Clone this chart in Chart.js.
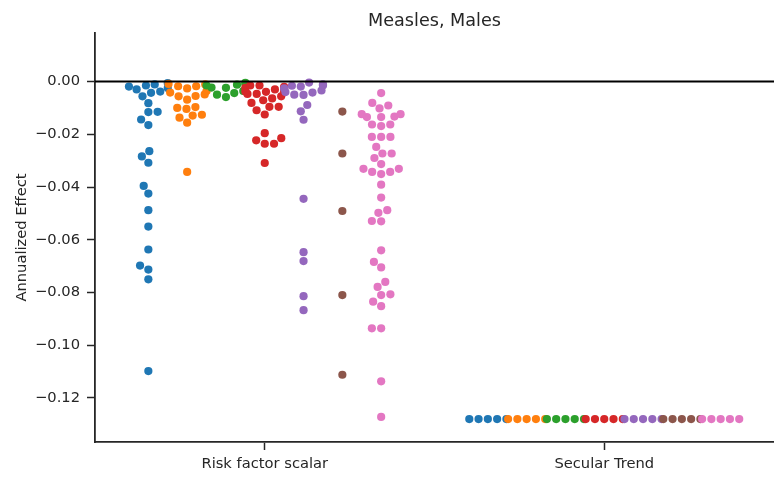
<!DOCTYPE html>
<html>
<head>
<meta charset="utf-8">
<script src="https://cdn.jsdelivr.net/npm/chart.js@4.4.0/dist/chart.umd.min.js"></script>
<style>
html,body{margin:0;padding:0;background:#ffffff;}
#wrap{width:774px;height:479px;}
</style>
</head>
<body>
<div id="wrap"><canvas id="c"></canvas></div>
<script>
// ---------------- data ----------------
const chartTitle = 'Measles, Males';
const yAxisLabel = 'Annualized Effect';
const categories = ['Risk factor scalar', 'Secular Trend'];
const yTicks = [0, -0.02, -0.04, -0.06, -0.08, -0.10, -0.12];

// "Risk factor scalar" values per hue group
const riskBlue = [-0.0006, -0.0011, -0.0015, -0.0019, -0.0025, -0.0030, -0.0038, -0.0043, -0.0056,
  -0.0082, -0.0115, -0.0116, -0.0144, -0.0165, -0.0264, -0.0284, -0.0308, -0.0396, -0.0425,
  -0.0488, -0.0550, -0.0637, -0.0698, -0.0713, -0.0750, -0.1098];
const riskOrange = [-0.0009, -0.0011, -0.0018, -0.0018, -0.0026, -0.0036, -0.0042, -0.0049, -0.0055,
  -0.0056, -0.0069, -0.0097, -0.0100, -0.0104, -0.0126, -0.0129, -0.0137, -0.0156, -0.0343];
const riskGreen = [-0.0005, -0.0009, -0.0012, -0.0015, -0.0023, -0.0024, -0.0036, -0.0044, -0.0050, -0.0059];
const riskRed = [-0.0015, -0.0015, -0.0020, -0.0024, -0.0026, -0.0030, -0.0038, -0.0039, -0.0039,
  -0.0047, -0.0047, -0.0056, -0.0064, -0.0071, -0.0081, -0.0096, -0.0096, -0.0109, -0.0125,
  -0.0196, -0.0215, -0.0223, -0.0236, -0.0236, -0.0309];
const riskPurple = [-0.0004, -0.0011, -0.0015, -0.0016, -0.0019, -0.0026, -0.0034, -0.0040, -0.0042,
  -0.0050, -0.0051, -0.0089, -0.0113, -0.0145, -0.0445, -0.0647, -0.0681, -0.0814, -0.0867];
const riskBrown = [-0.0114, -0.0273, -0.0491, -0.0810, -0.1112];
const riskPink = [-0.0044, -0.0081, -0.0091, -0.0102, -0.0124, -0.0124, -0.0133, -0.0135, -0.0135,
  -0.0163, -0.0163, -0.0169, -0.0210, -0.0210, -0.0210, -0.0248, -0.0273, -0.0273, -0.0290,
  -0.0313, -0.0331, -0.0331, -0.0343, -0.0343, -0.0351, -0.0391, -0.0440, -0.0488, -0.0498,
  -0.0529, -0.0530, -0.0640, -0.0684, -0.0705, -0.0760, -0.0779, -0.0807, -0.0810, -0.0835,
  -0.0852, -0.0936, -0.0936, -0.1137, -0.1272];

// "Secular Trend" values per hue group
const secularBlue   = [-0.128, -0.128, -0.128, -0.128, -0.128];
const secularOrange = [-0.128, -0.128, -0.128, -0.128, -0.128];
const secularGreen  = [-0.128, -0.128, -0.128, -0.128, -0.128];
const secularRed    = [-0.128, -0.128, -0.128, -0.128, -0.128];
const secularPurple = [-0.128, -0.128, -0.128, -0.128, -0.128];
const secularBrown  = [-0.128, -0.128, -0.128, -0.128, -0.128];
const secularPink   = [-0.128, -0.128, -0.128, -0.128, -0.128];

const zeroLineValue = 0;

// ---------------- styling ----------------
const hueColors = ['#1f77b4', '#ff7f0e', '#2ca02c', '#d62728', '#9467bd', '#8c564b', '#e377c2'];
const riskSeries = [riskBlue, riskOrange, riskGreen, riskRed, riskPurple, riskBrown, riskPink];
const secularSeries = [secularBlue, secularOrange, secularGreen, secularRed, secularPurple, secularBrown, secularPink];
const nHue = hueColors.length;
const groupWidth = 0.8;
const hueWidth = groupWidth / nHue;
const hueOffsets = hueColors.map((_, h) => -groupWidth / 2 + hueWidth * (h + 0.5));
const TEXT = '#262626';
const FONT = 'DejaVu Sans';
const swarmRadius = 4.42;   // layout radius in px (seaborn-like)

// beeswarm (seaborn algorithm), coordinates in px, y pointing up, sorted ascending
function beeswarm(items, r) {
  const mid = items[0].x;
  const swarm = [items[0]];
  for (let k = 1; k < items.length; k++) {
    const p = items[k];
    const nb = [];
    for (let j = swarm.length - 1; j >= 0; j--) {
      if (p.y - swarm[j].y < 2 * r) nb.push(swarm[j]); else break;
    }
    nb.reverse();
    const cands = [{x: p.x, y: p.y, v: p.v}];
    let leftFirst = true;
    for (const q of nb) {
      const dy = p.y - q.y;
      const dx = Math.sqrt(Math.max(4 * r * r - dy * dy, 0)) * 1.05;
      const cl = {x: q.x - dx, y: p.y, v: p.v};
      const cr = {x: q.x + dx, y: p.y, v: p.v};
      if (leftFirst) cands.push(cl, cr); else cands.push(cr, cl);
      leftFirst = !leftFirst;
    }
    const idx = cands.map((c, i) => i).sort((a, b) =>
      (Math.abs(cands[a].x - mid) - Math.abs(cands[b].x - mid)) || (a - b));
    let chosen = cands[0];
    if (nb.length) {
      for (const i of idx) {
        const c = cands[i];
        let ok = true;
        for (const q of nb) {
          const ddx = q.x - c.x, ddy = q.y - c.y;
          if (ddx * ddx + ddy * ddy < 4 * r * r) { ok = false; break; }
        }
        if (ok) { chosen = c; break; }
      }
    }
    swarm.push(chosen);
  }
  return swarm;
}

function layoutSwarms(chart) {
  const xs = chart.scales.x, ys = chart.scales.y;
  const ppu = xs.getPixelForValue(1) - xs.getPixelForValue(0);
  const half = hueWidth / 2 * ppu;
  chart.data.datasets.forEach((ds, h) => {
    const pts = [];
    [riskSeries[h], secularSeries[h]].forEach((vals, c) => {
      const cx = c + hueOffsets[h];
      const cpx = xs.getPixelForValue(cx);
      const sorted = vals.slice().sort((a, b) => a - b);
      const items = sorted.map(v => ({x: cpx, y: -ys.getPixelForValue(v), v: v}));
      const placed = beeswarm(items, swarmRadius);
      placed.forEach(p => {
        let dx = p.x - cpx;
        if (dx > half) dx = half;
        if (dx < -half) dx = -half;
        pts.push({x: cx + dx / ppu, y: p.v});
      });
    });
    ds.data = pts;
  });
  chart.update('none');
}

const datasets = hueColors.map((col, h) => ({
  label: 'group ' + (h + 1),
  data: [].concat(
    riskSeries[h].map(v => ({x: 0 + hueOffsets[h], y: v})),
    secularSeries[h].map(v => ({x: 1 + hueOffsets[h], y: v}))
  ),
  backgroundColor: col,
  borderColor: col,
  pointRadius: 4.1,
  pointBorderWidth: 0,
  pointHoverRadius: 4.1,
  order: nHue - 1 - h,
  clip: false
}));

const zeroLine = {
  id: 'zeroLine',
  afterDatasetsDraw(chart) {
    const {ctx, chartArea: a, scales: {y}} = chart;
    const py = y.getPixelForValue(zeroLineValue);
    ctx.save();
    ctx.strokeStyle = '#000000';
    ctx.lineWidth = 1.8;
    ctx.beginPath();
    ctx.moveTo(a.left, py);
    ctx.lineTo(a.right, py);
    ctx.stroke();
    ctx.restore();
  }
};

// title centred over the plotting area (as matplotlib does)
const axesTitle = {
  id: 'axesTitle',
  afterDraw(chart) {
    const {ctx, chartArea: a} = chart;
    ctx.save();
    ctx.fillStyle = TEXT;
    ctx.font = 'normal 17.6px "' + FONT + '"';
    ctx.textAlign = 'center';
    ctx.textBaseline = 'alphabetic';
    ctx.fillText(chartTitle, (a.left + a.right) / 2, 26);
    ctx.restore();
  }
};

const chart = new Chart(document.getElementById('c'), {
  type: 'scatter',
  data: {datasets},
  plugins: [zeroLine, axesTitle],
  options: {
    responsive: true,
    maintainAspectRatio: false,
    animation: false,
    events: [],
    layout: {autoPadding: false, padding: {left: 0, right: 0, top: 33, bottom: 0}},
    plugins: {
      legend: {display: false},
      tooltip: {enabled: false},
      title: {display: false}
    },
    scales: {
      x: {
        type: 'linear',
        min: -0.5,
        max: 1.5,
        afterBuildTicks: s => { s.ticks = categories.map((_, i) => ({value: i})); },
        afterFit: s => { s.height = 37; },
        ticks: {
          callback: v => categories[Math.round(v)],
          color: TEXT,
          font: {family: FONT, size: 14.7},
          padding: 5,
          autoSkip: false,
          maxRotation: 0
        },
        grid: {display: true, drawOnChartArea: false, drawTicks: true, tickLength: 8, tickWidth: 1.5, tickColor: TEXT, color: TEXT},
        border: {display: true, color: TEXT, width: 1.8}
      },
      y: {
        type: 'linear',
        min: -0.1367,
        max: 0.0184,
        afterBuildTicks: s => { s.ticks = yTicks.map(v => ({value: v})); },
        afterFit: s => { s.width = 95; },
        ticks: {
          callback: v => (Math.abs(v) < 1e-9 ? '0.00' : (v < 0 ? '\u2212' : '') + Math.abs(v).toFixed(2)),
          color: TEXT,
          font: {family: FONT, size: 14.7},
          padding: 7,
          autoSkip: false
        },
        title: {
          display: true,
          text: yAxisLabel,
          color: TEXT,
          font: {family: FONT, size: 14.7},
          padding: {top: 13, bottom: 0}
        },
        grid: {display: true, drawOnChartArea: false, drawTicks: true, tickLength: 8, tickWidth: 1.5, tickColor: TEXT, color: TEXT},
        border: {display: true, color: TEXT, width: 1.8}
      }
    }
  }
});
layoutSwarms(chart);
</script>
</body>
</html>
